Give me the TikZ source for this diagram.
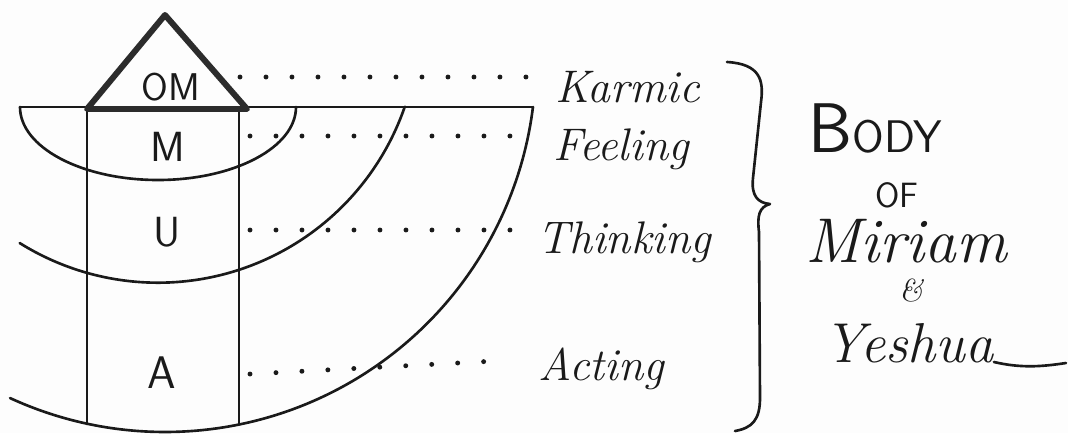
\documentclass[tikz,border=0pt]{standalone}
\usepackage{fontspec}
\usepackage{tikz}
\usepackage{xcolor}
\usetikzlibrary{positioning,calc}
\definecolor{Ink}{HTML}{1A1A1A}
\definecolor{Roof}{HTML}{2C2C2C}
\definecolor{Paper}{HTML}{FDFDFD}
\tikzset{
  pen/.style={draw=Ink, line width=1.5pt, line cap=round, line join=round},
  roof/.style={draw=Roof, line width=3.4pt, line join=round},
  leader/.style={draw=Ink, line width=2.8pt, line cap=round, dash pattern=on 0pt off 0.52cm},
  letter/.style={font=\sffamily\fontsize{24}{28}\selectfont, text=Ink, inner sep=0pt},
  script/.style={font=\itshape\fontsize{26}{30}\selectfont, text=Ink, inner sep=0pt, anchor=base west}
}

\begin{document}
\begin{tikzpicture}[x=0.02cm, y=0.02cm, yscale=-1]
        \fill[Paper] (0,0) rectangle (1068,433);
        \useasboundingbox (0,0) rectangle (1068,433);
        \draw[pen] (20,107) -- (533,107);
        \draw[pen] (20,107) arc[start angle=180, end angle=0, x radius=138, y radius=73];
        \draw[pen] (158,21.7) ++(122:261) arc[start angle=122, end angle=19, radius=261];
        \draw[pen] (165,61.2) ++(114.7:370.8) arc[start angle=114.7, end angle=7.1, radius=370.8];
        \draw[pen] (87,110) -- (87,424);
        \draw[pen] (239,110) -- (239,424);
        \draw[roof] (87,109) -- (165,15) -- (247,109) -- cycle;
        \node[letter, font=\sffamily\fontsize{22}{26}\selectfont] (om) at (171,87) {OM};
        \node[letter] (m) at (168,147) {M};
        \node[letter] (u) at (167,232) {U};
        \node[letter, font=\sffamily\fontsize{26}{30}\selectfont] (a) at (162,373) {A};
        \node[script] (karmic) at (555,102) {Karmic};
        \node[script] (feeling) at (553,160) {Feeling};
        \node[script] (thinking) at (537,253) {Thinking};
        \node[script] (acting) at (538,380) {Acting};
        \coordinate (om-r) at (240,77);
        \coordinate (m-r) at (250,136);
        \coordinate (u-r) at (250,230);
        \coordinate (a-r) at (250,374);
        \draw[leader, shorten >=0.36cm] (om-r) -- (om-r -| karmic.west);
        \draw[leader, shorten >=0.36cm] (m-r) -- (m-r -| feeling.west);
        \draw[leader, shorten >=0.34cm] (u-r) -- (u-r -| thinking.west);
        \draw[leader] (a-r) -- ($(acting.west)+(-30,-8)$);
        \draw[pen] (727,62) .. controls (760,64) and (764,80) .. (761,102) -- (753,178)
          .. controls (751,196) and (758,203) .. (770,204)
          .. controls (759,207) and (757,216) .. (759,232) -- (760,398)
          .. controls (760,420) and (752,428) .. (735,431);
        \node[inner sep=0pt, text=Ink, anchor=base west] (body) at (808,152)
          {\sffamily\fontsize{40}{44}\selectfont B\fontsize{26}{30}\selectfont ODY};
        \node[letter, font=\sffamily\fontsize{20}{24}\selectfont] (of) at (897,195) {OF};
        \node[script, font=\itshape\fontsize{36}{40}\selectfont] (miriam) at (805,262) {Miriam};
        \node[letter, font=\itshape\fontsize{18}{20}\selectfont] (and) at (911,291) {\&};
        \node[script, font=\itshape\fontsize{32}{36}\selectfont] (yeshua) at (823,362) {Yeshua};
        \draw[pen] (yeshua.base east) .. controls (1020,368) and (1040,367) .. (1066,363);
      \end{tikzpicture}
\end{document}
